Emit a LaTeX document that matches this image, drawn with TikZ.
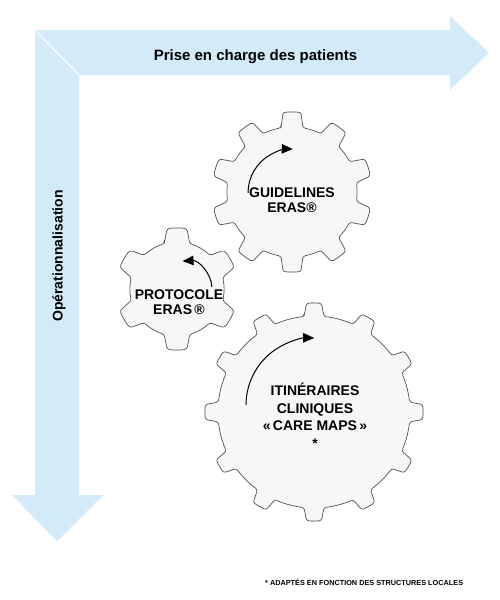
\documentclass[tikz,border=0pt]{standalone}
\usepackage{fontspec}
\setmainfont{Liberation Sans}
\usetikzlibrary{arrows.meta}
\definecolor{band}{RGB}{211,234,249}
\definecolor{cogfill}{RGB}{247,247,247}
\definecolor{cogline}{RGB}{80,80,80}
\tikzset{
  bandshape/.style={fill=band, draw=none},
  cogshape/.style={fill=cogfill, draw=cogline, line width=0.7pt, rounded corners=2.5pt},
  turn/.style={line width=1pt, -{Triangle[length=11pt,width=9.5pt]}},
  coglabel/.style={align=center, inner sep=0pt, font=\bfseries\fontsize{14}{15.5}\selectfont},
  pics/cog/.style args={#1/#2/#3/#4/#5/#6}{code={
    \pgfmathsetmacro\cst{360/#1}
    \pgfmathsetmacro\car{deg(#4/#2)}
    \pgfmathsetmacro\cat{deg(#5/#3)}
    \pgfmathtruncatemacro\cnm{#1-1}
    \draw[cogshape] ({#6-\car}:#2)
      \foreach \k in {0,...,\cnm}{
        -- ({#6+\k*\cst-\cat}:#3)
        arc[start angle={#6+\k*\cst-\cat}, end angle={#6+\k*\cst+\cat}, radius=#3]
        -- ({#6+\k*\cst+\car}:#2)
        arc[start angle={#6+\k*\cst+\car}, end angle={#6+(\k+1)*\cst-\car}, radius=#2]
      } -- cycle;
  }}
}
\begin{document}
\begin{tikzpicture}[x=1pt,y=-1pt]
\useasboundingbox (0,0) rectangle (500,600);
% bands
\fill[bandshape] (35,30) -- (450,30) -- (450,16) -- (489,53) -- (450,90) -- (450,75) -- (79,75) -- cycle;
\fill[bandshape] (35,30) -- (79,75) -- (79,495) -- (103,495) -- (57,541) -- (12,495) -- (35,495) -- cycle;
\draw[white, line width=1.2pt] (35,30) -- (79,75);
\node[inner sep=0pt, anchor=base, font=\bfseries\fontsize{15}{18}\selectfont] (top) at (255.5,60.5) {Prise en charge des patients};
\node[inner sep=0pt, rotate=90, font=\bfseries\fontsize{14}{17}\selectfont] (side) at (59,256) {Opérationnalisation};
% gears
\pic at (292,192) {cog=10/65/80/11/9/-90};
\pic at (177,289) {cog=6/47/61/13/10/-90};
\pic at (314,412) {cog=12/96/109/10/7.5/-90};
% turning arrows
\draw[turn] (292,193) ++(180:44) arc[start angle=180, end angle=271, radius=44];
\draw[turn] (184,289) ++(-4:28) arc[start angle=-4, end angle=-93, radius=28];
\draw[turn] (313,405) ++(180:67) arc[start angle=180, end angle=271, radius=67];
% labels
\node[coglabel] (g1) at (292,200) {GUIDELINES\\ERAS®};
\node[coglabel] (g2) at (179,302) {PROTOCOLE\\ERAS\,®};
\node[coglabel, font=\bfseries\fontsize{14}{17.5}\selectfont] (g3) at (315,416) {ITINÉRAIRES\\CLINIQUES\\«\,CARE MAPS\,»\\*};
\node[inner sep=0pt, anchor=base west, font=\bfseries\fontsize{7.3}{8}\selectfont] (note) at (265,585) {* ADAPTÉS EN FONCTION DES STRUCTURES LOCALES};
\end{tikzpicture}
\end{document}
